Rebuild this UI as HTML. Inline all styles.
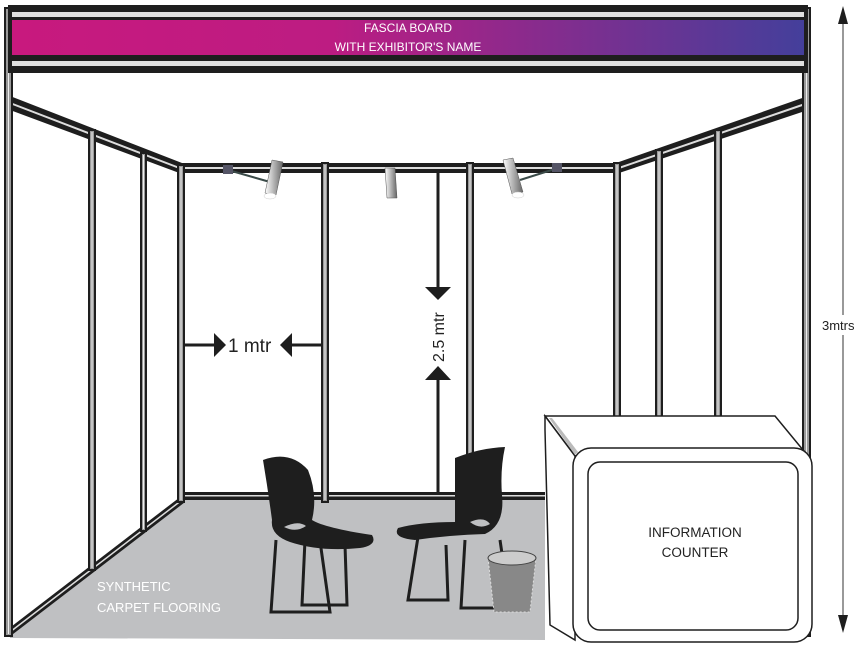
<!DOCTYPE html>
<html><head><style>html,body{margin:0;padding:0;background:#fff}svg{display:block}</style></head>
<body>
<svg width="867" height="648" viewBox="0 0 867 648" xmlns="http://www.w3.org/2000/svg" font-family="Liberation Sans, sans-serif">
<defs>
<linearGradient id="fg" x1="0" x2="1"><stop offset="0" stop-color="#c8197e"/><stop offset="0.4" stop-color="#bd1c82"/><stop offset="1" stop-color="#443f9b"/></linearGradient>
<linearGradient id="lamp" x1="0" x2="1"><stop offset="0" stop-color="#fff"/><stop offset="1" stop-color="#666"/></linearGradient>
</defs>
<polygon points="182,500 545,500 545,640 10,638 10,632" fill="#bfc0c2"/>
<line x1="182" y1="500" x2="10" y2="632" stroke="#1e1e1e" stroke-width="7"/>
<line x1="182" y1="500" x2="10" y2="632" stroke="#ddd" stroke-width="1.5"/>
<rect x="180" y="492" width="365" height="8" fill="#1e1e1e"/><rect x="180" y="495" width="365" height="1.5" fill="#ddd"/>
<rect x="180" y="163" width="438" height="10" fill="#1e1e1e"/><rect x="180" y="167" width="438" height="2" fill="#ddd"/>
<polygon points="10,96 182,163 182,174 10,110" fill="#1e1e1e"/>
<line x1="10" y1="103" x2="182" y2="169" stroke="#ddd" stroke-width="2"/>
<polygon points="808,96 616,163 616,174 808,110" fill="#1e1e1e"/>
<line x1="808" y1="103" x2="616" y2="169" stroke="#ddd" stroke-width="2"/>
<g fill="#9a9a9a" stroke="#1e1e1e" stroke-width="2">
<rect x="89" y="130" width="6" height="440"/>
<rect x="141" y="153" width="5" height="378"/>
<rect x="178" y="165" width="6" height="337"/>
<rect x="322" y="163" width="6" height="339"/>
<rect x="467" y="163" width="6" height="339"/>
<rect x="614" y="163" width="6" height="260"/>
<rect x="656" y="150" width="6" height="270"/>
<rect x="715" y="130" width="6" height="290"/>
<rect x="5" y="8" width="7" height="628"/>
<rect x="803" y="8" width="7" height="628"/>
</g>
<g stroke="#eee" stroke-width="1">
<line x1="92" y1="132" x2="92" y2="568"/><line x1="143.5" y1="155" x2="143.5" y2="529"/>
<line x1="181" y1="167" x2="181" y2="500"/><line x1="325" y1="165" x2="325" y2="500"/>
<line x1="470" y1="165" x2="470" y2="500"/><line x1="617" y1="165" x2="617" y2="421"/>
<line x1="659" y1="152" x2="659" y2="418"/><line x1="718" y1="132" x2="718" y2="418"/>
<line x1="8.5" y1="10" x2="8.5" y2="634"/><line x1="806.5" y1="10" x2="806.5" y2="634"/>
</g>
<rect x="8" y="5" width="800" height="68" fill="#1e1e1e"/>
<rect x="12" y="12" width="792" height="5" fill="#e0e0e0"/>
<rect x="12" y="20" width="792" height="35" fill="url(#fg)"/>
<rect x="12" y="61" width="792" height="5" fill="#e0e0e0"/>
<text x="408" y="32" fill="#fff" font-size="12" text-anchor="middle">FASCIA BOARD</text>
<text x="408" y="51" fill="#fff" font-size="12" text-anchor="middle">WITH EXHIBITOR'S NAME</text>
<line x1="228" y1="170" x2="270" y2="182" stroke="#3a4a48" stroke-width="2"/>
<rect x="223" y="165" width="10" height="9" fill="#556"/>
<polygon points="272,160 283,162 276,195 265,193" fill="url(#lamp)" stroke="#555" stroke-width=".5"/>
<ellipse cx="270" cy="196" rx="6" ry="3" fill="#fff" stroke="#ccc" stroke-width=".5"/>
<polygon points="385,168 395,168 397,198 387,198" fill="url(#lamp)" stroke="#555" stroke-width=".5"/>
<line x1="558" y1="168" x2="520" y2="180" stroke="#3a4a48" stroke-width="2"/>
<rect x="552" y="163" width="10" height="9" fill="#556"/>
<polygon points="503,160 513,158 523,192 512,194" fill="url(#lamp)" stroke="#555" stroke-width=".5"/>
<ellipse cx="518" cy="195" rx="6" ry="3" fill="#fff" stroke="#ccc" stroke-width=".5"/>
<line x1="184" y1="345" x2="218" y2="345" stroke="#1e1e1e" stroke-width="3"/>
<polygon points="214,333 226,345 214,357" fill="#1e1e1e"/>
<text x="228" y="352" font-size="19" fill="#222">1 mtr</text>
<line x1="322" y1="345" x2="288" y2="345" stroke="#1e1e1e" stroke-width="3"/>
<polygon points="292,333 280,345 292,357" fill="#1e1e1e"/>
<line x1="438" y1="173" x2="438" y2="292" stroke="#1e1e1e" stroke-width="3"/>
<polygon points="425,287 451,287 438,300" fill="#1e1e1e"/>
<text transform="translate(444,362) rotate(-90)" font-size="16" fill="#222">2.5 mtr</text>
<polygon points="425,380 451,380 438,366" fill="#1e1e1e"/>
<line x1="438" y1="378" x2="438" y2="492" stroke="#1e1e1e" stroke-width="3"/>
<line x1="843" y1="15" x2="843" y2="625" stroke="#333" stroke-width="1"/>
<polygon points="838,24 848,24 843,6" fill="#1e1e1e"/>
<polygon points="838,615 848,615 843,633" fill="#1e1e1e"/>
<rect x="820" y="315" width="47" height="20" fill="#fff"/>
<text x="822" y="330" font-size="13" fill="#222">3mtrs</text>
<text x="97" y="591" font-size="13" fill="#fff">SYNTHETIC</text>
<text x="97" y="612" font-size="13" fill="#fff">CARPET FLOORING</text>
<g fill="none" stroke="#1e1e1e" stroke-width="3">
<path d="M276,540 L271,612 L330,612 L320,541"/>
<path d="M305,540 L302,605 L347,605 L345,545"/>
</g>
<path d="M263,460 Q290,450 308,470 Q318,495 312,520 Q325,528 372,535 Q378,545 360,548 Q320,552 290,542 Q270,535 272,520 Q268,490 263,460Z" fill="#1e1e1e"/>
<path d="M284,527 Q298,520 306,526 Q296,533 284,527Z" fill="#bfc0c2"/>
<g fill="none" stroke="#1e1e1e" stroke-width="3">
<path d="M418,537 L408,600 L448,600 L446,545"/>
<path d="M465,540 L461,608 L510,608 L500,540"/>
</g>
<path d="M455,458 Q480,448 505,447 Q500,470 502,495 Q505,525 485,534 Q450,535 415,540 Q392,538 398,528 Q420,522 455,522 Q455,490 455,458Z" fill="#1e1e1e"/>
<path d="M470,522 Q484,516 490,524 Q480,530 470,522Z" fill="#bfc0c2"/>
<path d="M488,558 L494,612 L530,612 L536,558Z" fill="#888"/>
<path d="M488,558 L494,612 L530,612 L536,558Z" fill="none" stroke="#ddd" stroke-width="1" stroke-dasharray="2,2"/>
<ellipse cx="512" cy="558" rx="24" ry="7" fill="#ccc" stroke="#444"/>
<polygon points="545,416 775,416 808,456 575,456" fill="#fff" stroke="#1e1e1e" stroke-width="1.5"/>
<polygon points="545,416 575,456 575,640 550,625 545,430" fill="#fff" stroke="#1e1e1e" stroke-width="1.5"/>
<polygon points="549,418 552,418 578,452 575,455" fill="#bbb"/>
<rect x="573" y="448" width="239" height="194" rx="18" fill="#fff" stroke="#1e1e1e" stroke-width="1.5"/>
<rect x="588" y="462" width="210" height="168" rx="12" fill="#fff" stroke="#1e1e1e" stroke-width="1.5"/>
<text x="695" y="537" font-size="13.5" fill="#222" text-anchor="middle">INFORMATION</text>
<text x="695" y="557" font-size="13.5" fill="#222" text-anchor="middle">COUNTER</text>
</svg>
</body></html>
